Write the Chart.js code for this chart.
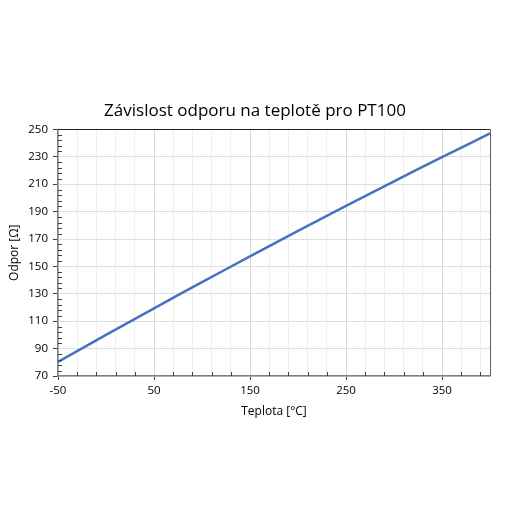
<!DOCTYPE html>
<html>
<head>
<meta charset="utf-8">
<script src="https://cdn.jsdelivr.net/npm/chart.js@4.4.0/dist/chart.umd.min.js"></script>
<style>
  html, body { margin: 0; padding: 0; background: #fff; }
  #wrap { width: 510px; height: 510px; }
</style>
</head>
<body>
<div id="wrap"><canvas id="myChart" width="510" height="510"></canvas></div>
<script>
// teplota [°C] a odpor [Ohm]
const teploty = [-50, 0, 50, 100, 150, 200, 250, 300, 350, 400];
const odpory = [80.3, 100.0, 119.4, 138.5, 157.3, 175.9, 194.1, 212.1, 229.7, 247.1];

const xMin = -50, xMax = 400, xMajor = 100, xMinor = 20;
const yMin = 70, yMax = 250, yMajor = 20, yMinor = 4;

const FONT = "'Open Sans', 'Noto Sans', sans-serif";
const AXIS_COLOR = "#7f7f7f";

// male carky na osach a ramecek
const minorTicks = {
  id: 'minorTicks',
  afterDraw(chart) {
    const ctx = chart.ctx;
    const a = chart.chartArea;
    const sx = chart.scales.x, sy = chart.scales.y;
    ctx.save();
    ctx.strokeStyle = "#404040";
    ctx.lineWidth = 1;
    ctx.beginPath();
    for (let v = xMin; v < xMax; v += xMinor) {
      if ((v - xMin) % xMajor === 0) continue;
      const px = Math.round(sx.getPixelForValue(v)) + 0.5;
      ctx.moveTo(px, a.bottom);
      ctx.lineTo(px, a.bottom - 4);
    }
    for (let v = yMin; v < yMax; v += yMinor) {
      if ((v - yMin) % yMajor === 0) continue;
      const py = Math.round(sy.getPixelForValue(v)) + 0.5;
      ctx.moveTo(a.left, py);
      ctx.lineTo(a.left + 4, py);
    }
    ctx.stroke();
    // horni a prava hrana
    ctx.strokeStyle = "#222";
    ctx.beginPath();
    ctx.moveTo(a.left, Math.round(a.top) + 0.5);
    ctx.lineTo(a.right, Math.round(a.top) + 0.5);
    ctx.stroke();
    ctx.strokeStyle = "#606060";
    ctx.beginPath();
    ctx.moveTo(Math.round(a.right) + 0.5, a.top);
    ctx.lineTo(Math.round(a.right) + 0.5, a.bottom);
    ctx.stroke();
    ctx.restore();
  }
};

function chart() {
  const ctx = document.getElementById("myChart");
  new Chart(ctx, {
    type: "line",
    data: {
      datasets: [{
        data: teploty.map((t, i) => ({ x: t, y: odpory[i] })),
        borderColor: "#4472C4",
        borderWidth: 2.5,
        pointRadius: 0,
        tension: 0.3,
        fill: false
      }]
    },
    options: {
      responsive: false,
      animation: false,
      layout: { padding: { left: 10, right: 10, top: 0, bottom: 87 } },
      plugins: {
        legend: { display: false },
        tooltip: { enabled: false },
        title: {
          display: true,
          text: "Závislost odporu na teplotě pro PT100",
          color: "#000",
          font: { family: FONT, size: 17, weight: "normal" },
          padding: { top: 101, bottom: 8 }
        }
      },
      scales: {
        x: {
          type: "linear",
          min: xMin,
          max: xMax,
          afterBuildTicks(scale) {
            const t = [];
            for (let v = xMin; v < xMax; v += xMinor) t.push({ value: v });
            t.push({ value: xMax });
            scale.ticks = t;
          },
          afterFit(scale) { scale.height = 47; },
          ticks: {
            autoSkip: false,
            maxRotation: 0,
            padding: 4,
            color: "#000",
            font: { family: FONT, size: 11.5 },
            callback: (v) => ((v - xMin) % xMajor === 0 && v !== xMax) ? v : ""
          },
          grid: {
            color: (c) => c.tick && (c.tick.value - xMin) % xMajor === 0 ? "#d9d9d9" : "#efefef",
            tickLength: 4,
            tickColor: (c) => c.tick && (c.tick.value - xMin) % xMajor === 0 && c.tick.value !== xMax ? "#404040" : "rgba(0,0,0,0)"
          },
          border: { color: AXIS_COLOR, width: 1.5 },
          title: {
            display: true,
            text: "Teplota [°C]",
            color: "#000",
            font: { family: FONT, size: 12 },
            padding: { top: 0, bottom: 4 }
          }
        },
        y: {
          min: yMin,
          max: yMax,
          afterFit(scale) { scale.width = 48; },
          ticks: {
            stepSize: yMajor,
            padding: 5,
            color: "#000",
            font: { family: FONT, size: 11.5 }
          },
          grid: {
            color: "#dedede",
            tickLength: 5,
            tickColor: "#404040"
          },
          border: { color: AXIS_COLOR, width: 1.5 },
          title: {
            display: true,
            text: "Odpor [Ω]",
            color: "#000",
            font: { family: FONT, size: 12 },
            padding: { top: -3, bottom: 0 }
          }
        },
        // prazdna osa vpravo, jen kvuli okraji
        yPrazdna: {
          position: "right",
          display: true,
          afterFit(scale) { scale.width = 10; },
          ticks: { display: false },
          grid: { display: false },
          border: { display: false }
        }
      }
    },
    plugins: [minorTicks]
  });
}

window.addEventListener('DOMContentLoaded', () => { chart(); });
</script>
</body>
</html>
